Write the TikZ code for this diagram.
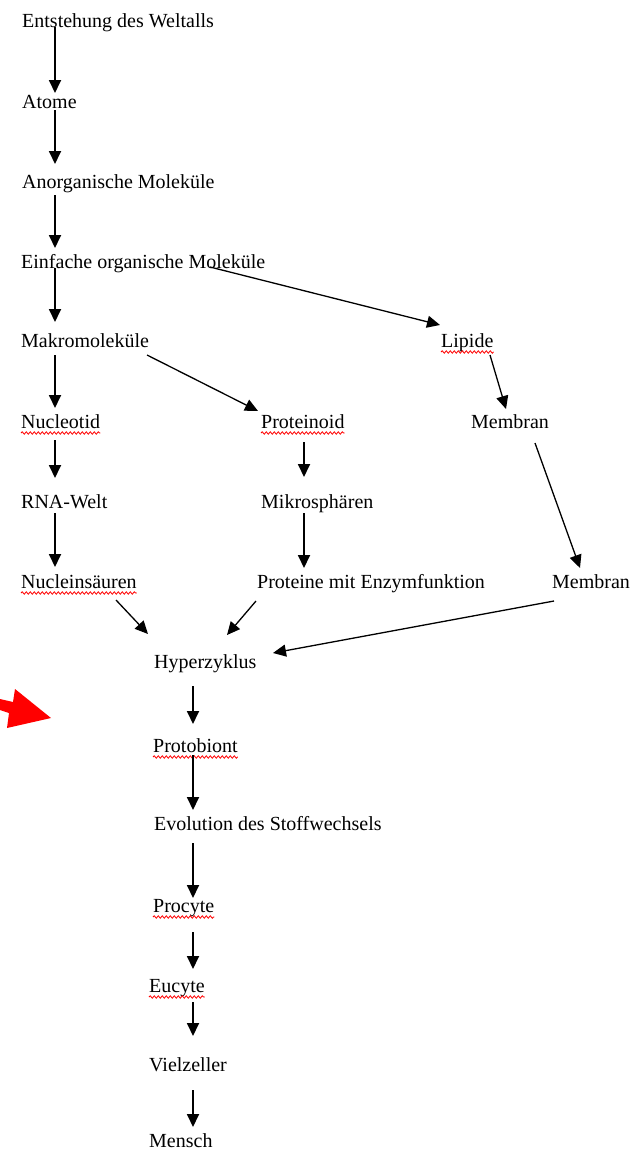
\documentclass[tikz,border=0pt]{standalone}
\usepackage{fontspec}
\setmainfont{Liberation Serif}
\usetikzlibrary{arrows.meta,calc,decorations.pathmorphing}
\tikzset{
  lbl/.style={anchor=base west, inner sep=0pt, font=\fontsize{20}{24}\selectfont},
  arr/.style={-{Triangle[width=12pt,length=13pt]}, line width=1.8pt},
  darr/.style={arr, line width=1.3pt},
  wavy/.style={red, line width=0.8pt, decorate, decoration={snake, amplitude=1.2pt, segment length=4pt}},
  redarrow/.style={fill=red, draw=none}
}
\begin{document}
\begin{tikzpicture}[x=1pt,y=-1pt]
\fill[white] (0,0) rectangle (633,1152);
\useasboundingbox (0,0) rectangle (633,1152);

% nodes
\node[lbl] (n1) at (22,27) {Entstehung des Weltalls};
\node[lbl] (n2) at (22,108) {Atome};
\node[lbl] (n3) at (22,188) {Anorganische Moleküle};
\node[lbl] (n4) at (21,268) {Einfache organische Moleküle};
\node[lbl] (n5) at (21,347) {Makromoleküle};
\node[lbl] (lip) at (441,347) {Lipide};
\node[lbl] (nuc) at (21,428) {Nucleotid};
\node[lbl] (prd) at (261,428) {Proteinoid};
\node[lbl] (mem1) at (471,428) {Membran};
\node[lbl] (rna) at (21,508) {RNA-Welt};
\node[lbl] (mik) at (261,508) {Mikrosphären};
\node[lbl] (nsr) at (21,588) {Nucleinsäuren};
\node[lbl] (pen) at (257,588) {Proteine mit Enzymfunktion};
\node[lbl] (mem2) at (552,588) {Membran};
\node[lbl] (hyp) at (154,668) {Hyperzyklus};
\node[lbl] (pro) at (153,752) {Protobiont};
\node[lbl] (evo) at (154,830) {Evolution des Stoffwechsels};
\node[lbl] (pcy) at (153,912) {Procyte};
\node[lbl] (eu) at (149,992) {Eucyte};
\node[lbl] (viel) at (149,1071) {Vielzeller};
\node[lbl] (men) at (149,1147) {Mensch};

% red wavy underlines
\foreach \n in {lip,nuc,prd,nsr,pro,pcy,eu}
  \draw[wavy] ($(\n.base west)+(0,5)$) -- ($(\n.base east)+(0,5)$);

% connectors
\draw[arr] ($(n1.base west)+(33,0)$) -- ($(n2.base west)+(33,-15)$);
\draw[arr] ($(n2.base west)+(33,2)$) -- ($(n3.base west)+(33,-24)$);
\draw[arr] ($(n3.base west)+(33,7)$) -- ($(n4.base west)+(34,-20)$);
\draw[arr] ($(n4.base west)+(34,0)$) -- ($(n5.base west)+(34,-25)$);
\draw[darr] ($(n4.base west)+(189,-1)$) -- ($(lip.base west)+(-1,-22)$);
\draw[arr] ($(n5.base west)+(34,8)$) -- ($(nuc.base west)+(34,-20)$);
\draw[darr] ($(n5.base west)+(126,8)$) -- ($(prd.base west)+(-3,-17)$);
\draw[darr] ($(lip.base west)+(49,8)$) -- ($(mem1.base west)+(35,-19)$);
\draw[arr] ($(nuc.base west)+(34,12)$) -- ($(rna.base west)+(34,-30)$);
\draw[arr] ($(prd.base west)+(43,14)$) -- ($(mik.base west)+(43,-31)$);
\draw[arr] ($(rna.base west)+(34,5)$) -- ($(nsr.base west)+(34,-21)$);
\draw[arr] ($(mik.base west)+(43,5)$) -- ($(pen.base west)+(47,-20)$);
\draw[darr] ($(mem1.base west)+(64,15)$) -- ($(mem2.base west)+(28,-20)$);
\draw[darr] ($(nsr.base west)+(95,12)$) -- ($(hyp.base west)+(-6,-34)$);
\draw[darr] ($(pen.base west)+(-1,13)$) -- ($(hyp.base west)+(73,-33)$);
\draw[darr] ($(mem2.base west)+(2,13)$) -- ($(hyp.base west)+(119,-15)$);
\draw[arr] ($(hyp.base west)+(39,18)$) -- ($(pro.base west)+(40,-28)$);
\draw[arr] ($(pro.base west)+(40,3)$) -- ($(evo.base west)+(39,-20)$);
\draw[arr] ($(evo.base west)+(39,13)$) -- ($(pcy.base west)+(40,-14)$);
\draw[arr] ($(pcy.base west)+(40,20)$) -- ($(eu.base west)+(44,-23)$);
\draw[arr] ($(eu.base west)+(44,10)$) -- ($(viel.base west)+(44,-35)$);
\draw[arr] ($(viel.base west)+(44,19)$) -- ($(men.base west)+(44,-20)$);

% red block arrow
\fill[redarrow] (0,699) -- (13,702) -- (15,689) -- (51,718) -- (7,728) -- (9,713) -- (0,710) -- cycle;
\end{tikzpicture}
\end{document}
